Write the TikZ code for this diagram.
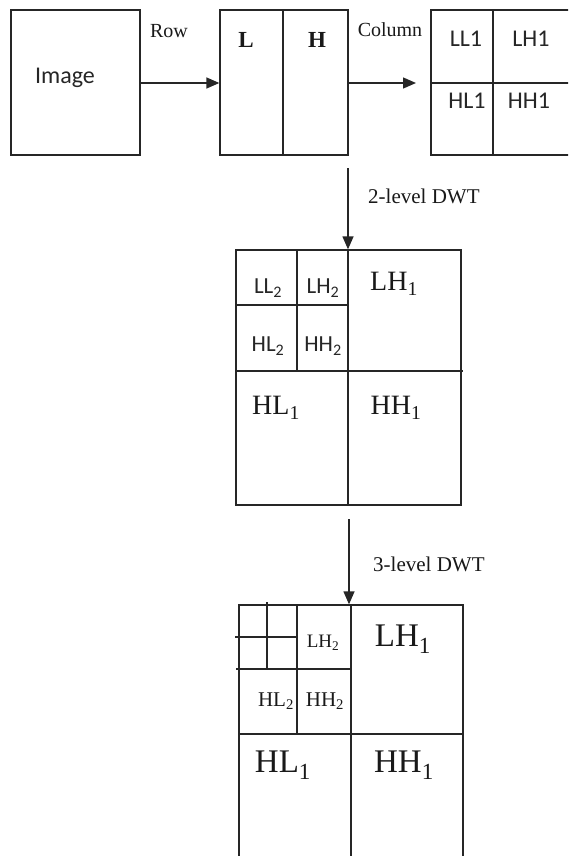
\documentclass[tikz,border=0pt]{standalone}
\usepackage{fontspec}
\setmainfont{Liberation Serif}
\newfontfamily\calibrifont{Carlito}
\usetikzlibrary{arrows.meta}

\tikzset{
  edge/.style={line width=1.3pt, black!85},
  box/.style={edge, draw, inner sep=0pt},
  flow/.style={edge, -{Triangle[length=13pt,width=11pt]}},
  sanslbl/.style={font=\calibrifont\fontsize{#1}{#1}\selectfont, text=black!85, inner sep=0pt},
  seriflbl/.style={font=\fontsize{#1}{#1}\selectfont, text=black!90, inner sep=0pt},
}

\begin{document}
\begin{tikzpicture}[x=1pt, y=-1pt]
\useasboundingbox (0,0) rectangle (568,856);
\clip (0,0) rectangle (568,856);
\fill[white] (0,0) rectangle (568,856);

% ---- first stage: image, row transform, column transform ----
\node[box, minimum width=129pt, minimum height=145pt] (img) at (75.5,82.5) {};
\node[sanslbl=24, anchor=center] (imgtxt) at (65,78) {Image};

\node[box, minimum width=128pt, minimum height=145pt] (rowbox) at (284,82.5) {};
\draw[edge] (283,10) -- (283,155);
\node[seriflbl=23, font=\bfseries\fontsize{23}{23}\selectfont] (ltxt) at (246,40) {L};
\node[seriflbl=23, font=\bfseries\fontsize{23}{23}\selectfont] (htxt) at (317,40) {H};

\node[box, minimum width=160pt, minimum height=145pt] (colbox) at (511,82.5) {};
\draw[edge] (493,10) -- (493,155);
\draw[edge] (431,83) -- (591,83);
\node[sanslbl=24] (ll1) at (466,39) {LL1};
\node[sanslbl=24] (lh1) at (531,39) {LH1};
\node[sanslbl=24] (hl1) at (467,101) {HL1};
\node[sanslbl=24] (hh1) at (529,101) {HH1};

\draw[flow] (img.east |- 0,83) -- (rowbox.west |- 0,83);
\node[seriflbl=20] (rowtxt) at (169,31) {Row};
\coordinate (colend) at (416,83);
\draw[flow] (rowbox.east |- 0,83) -- (colend);
\node[seriflbl=20] (coltxt) at (390,30) {Column};

% ---- second stage: 2-level decomposition ----
\node[box, minimum width=225pt, minimum height=255pt] (lvl2) at (348.5,377.5) {};
\draw[edge] (348,250) -- (348,505);
\draw[edge] (236,371) -- (463,371);
\draw[edge] (297,250) -- (297,371);
\draw[edge] (236,305) -- (348,305);
\node[sanslbl=23] (a1) at (268,288) {LL\textsubscript{2}};
\node[sanslbl=23] (a2) at (323,288) {LH\textsubscript{2}};
\node[sanslbl=23] (a3) at (268,346) {HL\textsubscript{2}};
\node[sanslbl=23] (a4) at (323,346) {HH\textsubscript{2}};
\node[seriflbl=28] (a5) at (394,284) {LH\textsubscript{1}};
\node[seriflbl=28] (a6) at (276,408) {HL\textsubscript{1}};
\node[seriflbl=28] (a7) at (396,408) {HH\textsubscript{1}};

\coordinate (d1start) at (348,168);
\draw[flow] (d1start) -- (lvl2.north -| 348,0);
\node[seriflbl=21, anchor=west] (dwt2) at (368,196) {2-level DWT};

% ---- third stage: 3-level decomposition ----
\node[box, minimum width=224pt, minimum height=270pt] (lvl3) at (351,740) {};
\draw[edge] (351,605) -- (351,875);
\draw[edge] (239,734) -- (463,734);
\draw[edge] (297,605) -- (297,734);
\draw[edge] (236,669) -- (351,669);
\draw[edge] (267,602) -- (267,669);
\draw[edge] (235,637) -- (297,637);
\node[seriflbl=19] (b1) at (323,643) {LH\textsubscript{2}};
\node[seriflbl=33] (b2) at (403,639) {LH\textsubscript{1}};
\node[seriflbl=21] (b3) at (276,701) {HL\textsubscript{2}};
\node[seriflbl=21] (b4) at (325,701) {HH\textsubscript{2}};
\node[seriflbl=33] (b5) at (283,765) {HL\textsubscript{1}};
\node[seriflbl=33] (b6) at (404,765) {HH\textsubscript{1}};

\coordinate (d2start) at (349,519);
\draw[flow] (d2start) -- (lvl3.north -| 349,0);
\node[seriflbl=21, anchor=west] (dwt3) at (373,564) {3-level DWT};
\end{tikzpicture}
\end{document}
